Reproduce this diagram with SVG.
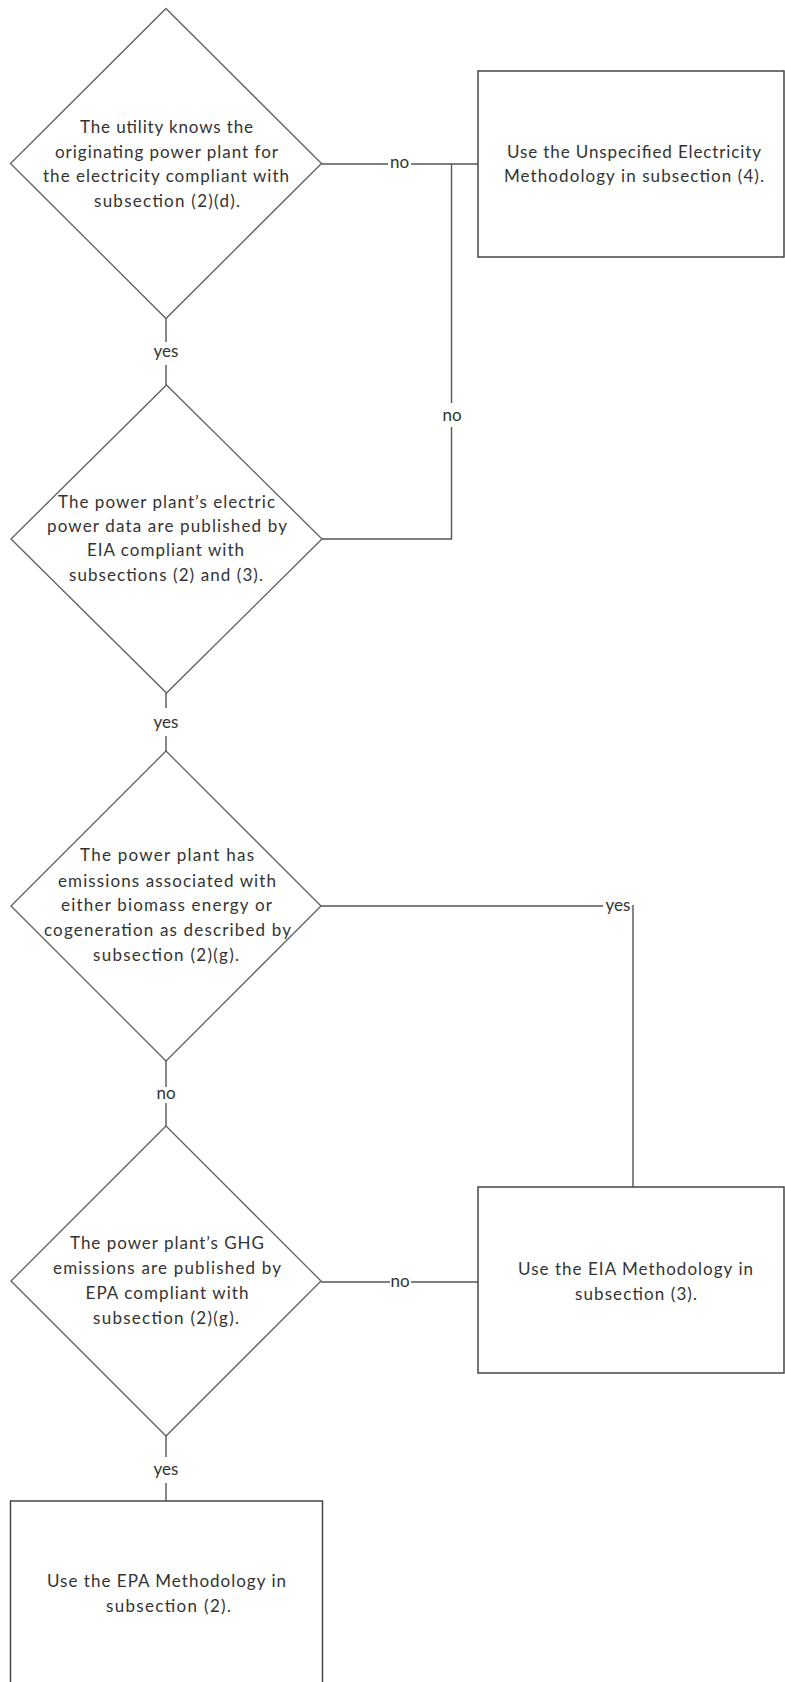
<svg xmlns="http://www.w3.org/2000/svg" width="785" height="1682" viewBox="0 0 785 1682">
<style>
  .bg { fill: #ffffff; }
  .dia { fill: none; stroke: #5f5f5f; stroke-width: 1.3; }
  .box { fill: none; stroke: #454545; stroke-width: 1.5; }
  .con { fill: none; stroke: #555555; stroke-width: 1.4; }
  .t { font-family: Lato, "Liberation Sans", sans-serif; font-size: 17px; fill: #333333; text-anchor: middle; }
  .lbl { font-family: Lato, "Liberation Sans", sans-serif; font-size: 17px; fill: #333333; text-anchor: middle; }
</style>
<rect class="bg" x="0" y="0" width="785" height="1682"/>

<g id="connectors">
  <!-- D1 no -> Unspecified box -->
  <polyline class="con" points="321.5,164 388,164"/>
  <polyline class="con" points="411,164 478,164"/>
  <!-- D2 no -> junction -->
  <polyline class="con" points="322,539 451.5,539 451.5,427"/>
  <polyline class="con" points="451.5,403 451.5,164"/>
  <!-- D1 yes -> D2 -->
  <polyline class="con" points="166,318.5 166,342"/>
  <polyline class="con" points="166,365 166,385"/>
  <!-- D2 yes -> D3 -->
  <polyline class="con" points="166,693 166,708"/>
  <polyline class="con" points="166,736 166,751"/>
  <!-- D3 yes -> EIA box -->
  <polyline class="con" points="321,906 603,906"/>
  <polyline class="con" points="633,905 633,1187"/>
  <!-- D3 no -> D4 -->
  <polyline class="con" points="166,1061 166,1087"/>
  <polyline class="con" points="166,1103 166,1126"/>
  <!-- D4 no -> EIA box -->
  <polyline class="con" points="321,1282 390,1282"/>
  <polyline class="con" points="411,1282 478,1282"/>
  <!-- D4 yes -> EPA box -->
  <polyline class="con" points="166,1436 166,1457"/>
  <polyline class="con" points="166,1483 166,1501"/>

  <text class="lbl" x="399.5" y="168">no</text>
  <text class="lbl" x="452" y="421">no</text>
  <text class="lbl" x="166" y="357">yes</text>
  <text class="lbl" x="166" y="728">yes</text>
  <text class="lbl" x="618" y="910.5">yes</text>
  <text class="lbl" x="166" y="1099">no</text>
  <text class="lbl" x="400" y="1287">no</text>
  <text class="lbl" x="166" y="1475">yes</text>
</g>

<g id="d1">
  <polygon class="dia" points="166,8.5 321.5,163.5 166,318.5 10.5,163.5"/>
  <text class="t" x="166.5" y="133" textLength="173" lengthAdjust="spacing">The utility knows the</text>
  <text class="t" x="166.5" y="157.6" textLength="223" lengthAdjust="spacing">originating power plant for</text>
  <text class="t" x="166" y="182.2" textLength="246" lengthAdjust="spacing">the electricity compliant with</text>
  <text class="t" x="167" y="206.8" textLength="146" lengthAdjust="spacing">subsection (2)(d).</text>
</g>

<g id="d2">
  <polygon class="dia" points="166.5,385 322,539 166.5,693 11,539"/>
  <text class="t" x="166.5" y="508" textLength="217" lengthAdjust="spacing">The power plant’s electric</text>
  <text class="t" x="167" y="532" textLength="240" lengthAdjust="spacing">power data are published by</text>
  <text class="t" x="165.5" y="556.3" textLength="157" lengthAdjust="spacing">EIA compliant with</text>
  <text class="t" x="166" y="581" textLength="194" lengthAdjust="spacing">subsections (2) and (3).</text>
</g>

<g id="d3">
  <polygon class="dia" points="166,751 321,906 166,1061 11,906"/>
  <text class="t" x="167" y="861" textLength="174" lengthAdjust="spacing">The power plant has</text>
  <text class="t" x="167" y="886.5" textLength="218" lengthAdjust="spacing">emissions associated with</text>
  <text class="t" x="166.5" y="911" textLength="211" lengthAdjust="spacing">either biomass energy or</text>
  <text class="t" x="167.5" y="936" textLength="247" lengthAdjust="spacing">cogeneration as described by</text>
  <text class="t" x="166" y="960.5" textLength="146" lengthAdjust="spacing">subsection (2)(g).</text>
</g>

<g id="d4">
  <polygon class="dia" points="166,1126 321,1281 166,1436 11,1281"/>
  <text class="t" x="167" y="1249" textLength="194" lengthAdjust="spacing">The power plant’s GHG</text>
  <text class="t" x="167" y="1274" textLength="228" lengthAdjust="spacing">emissions are published by</text>
  <text class="t" x="167" y="1299" textLength="163" lengthAdjust="spacing">EPA compliant with</text>
  <text class="t" x="166" y="1323.5" textLength="146" lengthAdjust="spacing">subsection (2)(g).</text>
</g>

<g id="box-unspecified">
  <rect class="box" x="478" y="71" width="306" height="186"/>
  <text class="t" x="634" y="158" textLength="254" lengthAdjust="spacing">Use the Unspecified Electricity</text>
  <text class="t" x="634" y="182" textLength="260" lengthAdjust="spacing">Methodology in subsection (4).</text>
</g>

<g id="box-eia">
  <rect class="box" x="478" y="1187" width="306" height="186"/>
  <text class="t" x="635.5" y="1275" textLength="235" lengthAdjust="spacing">Use the EIA Methodology in</text>
  <text class="t" x="636" y="1300" textLength="122" lengthAdjust="spacing">subsection (3).</text>
</g>

<g id="box-epa">
  <rect class="box" x="10.5" y="1501" width="312" height="200"/>
  <text class="t" x="166.5" y="1587" textLength="239" lengthAdjust="spacing">Use the EPA Methodology in</text>
  <text class="t" x="168.5" y="1612" textLength="125" lengthAdjust="spacing">subsection (2).</text>
</g>
</svg>
